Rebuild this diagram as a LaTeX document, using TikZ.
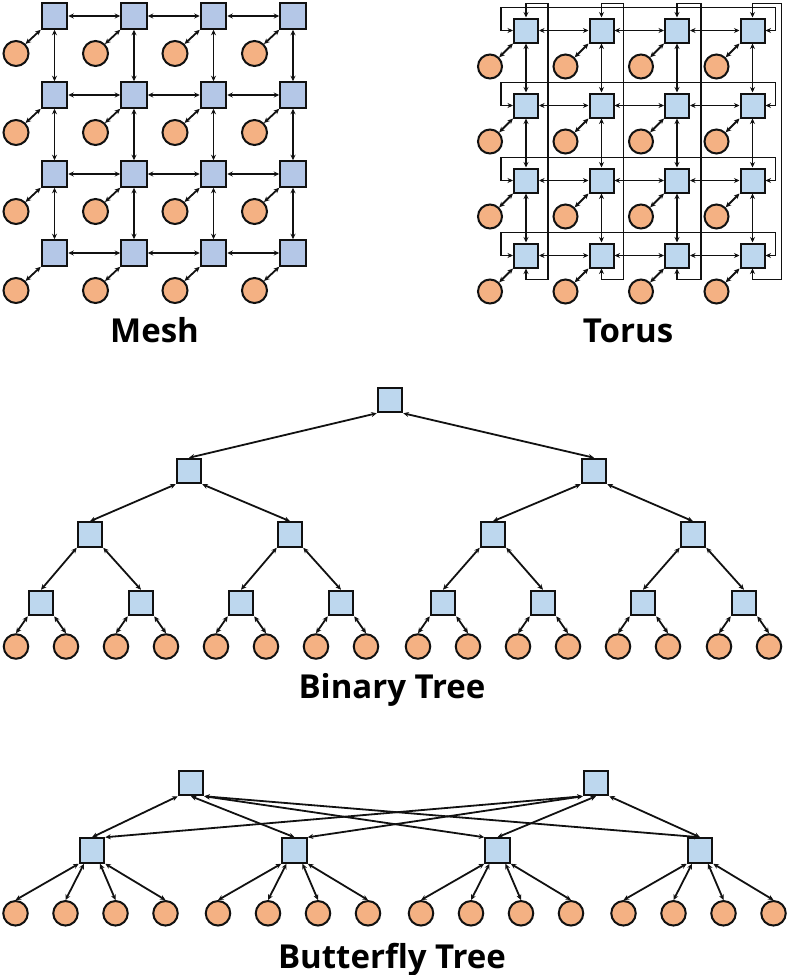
\documentclass[tikz,border=0pt]{standalone}
\usepackage{fontspec}
\setmainfont{Open Sans}
\usetikzlibrary{arrows.meta}

\definecolor{meshblue}{HTML}{B4C7E7}
\definecolor{routerblue}{HTML}{BDD7EE}
\definecolor{coreorange}{HTML}{F4B183}
\definecolor{wire}{HTML}{111111}

\begin{document}
\begin{tikzpicture}[x=1pt, y=-1pt, >={Stealth[length=5.5pt,width=5pt]},
  router/.style={draw=wire, line width=2pt, fill=routerblue, minimum size=24.5pt, inner sep=0pt},
  core/.style={circle, draw=wire, line width=2pt, fill=coreorange, minimum size=24.5pt, inner sep=0pt},
  link/.style={<->, draw=wire, line width=1.8pt},
  caption/.style={font=\fontsize{33}{40}\selectfont\bfseries, anchor=base}]
  \useasboundingbox (0,0) rectangle (788,975);

  % mesh
  \foreach \i in {0,...,3}
    \foreach \j in {0,...,3} {
      \node[router, fill=meshblue, minimum size=25.5pt] (m-\i-\j) at ({54.5+79.5*\i},{16+79*\j}) {};
      \node[core, minimum size=25pt] (mc-\i-\j) at ({16+79.5*\i},{53.5+79*\j}) {};
      \draw[link] (m-\i-\j.south west) -- (mc-\i-\j.north east);
    }
  \foreach \i/\k in {0/1,1/2,2/3}
    \foreach \j in {0,...,3} {
      \draw[link] (m-\i-\j) -- (m-\k-\j);
      \draw[link] (m-\j-\i) -- (m-\j-\k);
    }
  \node[caption] (meshlabel) at (154.5,342) {Mesh};

  % torus
  \foreach \i in {0,...,3}
    \foreach \j in {0,...,3} {
      \node[router, minimum size=24pt] (t-\i-\j) at ({526+75.5*\i},{30.5+75*\j}) {};
      \node[core, minimum size=24pt] (tc-\i-\j) at ({490+75.5*\i},{66.5+75*\j}) {};
      \draw[link] (t-\i-\j.south west) -- (tc-\i-\j.north east);
    }
  \foreach \i/\k in {0/1,1/2,2/3}
    \foreach \j in {0,...,3} {
      \draw[link] (t-\i-\j) -- (t-\k-\j);
      \draw[link] (t-\j-\i) -- (t-\j-\k);
    }
  % wrap-around links
  \foreach \j in {0,...,3}
    \draw[link] (t-0-\j.west) -- ++(-12,0) -- ++(0,-23) -| ([xshift=23pt]t-3-\j.center) -- (t-3-\j.east);
  \foreach \i/\off in {0/22,1/22,2/24,3/29}
    \draw[link] (t-\i-0.north) -- ++(0,-14) -- ++(\off,0) |- ([yshift=-24pt]t-\i-3.center) -- (t-\i-3.south);
  \node[caption] (toruslabel) at (628,342) {Torus};

  % binary tree
  \node[router] (root) at (390,400) {};
  \node[router] (b1-1) at (189,471) {};
  \node[router] (b1-2) at (594,471) {};
  \draw[link] (root.south west) -- (b1-1.north);
  \draw[link] (root.south east) -- (b1-2.north);
  \foreach \x [count=\k] in {90,290,493,693}
    \node[router] (b2-\k) at (\x,534.5) {};
  \draw[link] (b1-1.south west) -- (b2-1.north);
  \draw[link] (b1-1.south east) -- (b2-2.north);
  \draw[link] (b1-2.south west) -- (b2-3.north);
  \draw[link] (b1-2.south east) -- (b2-4.north);
  \foreach \x [count=\k] in {41,141,241,341,443,543,643,744} {
    \node[router] (b3-\k) at (\x,603) {};
    \node[core] (bl-\k-a) at ({\x-25},646.5) {};
    \node[core] (bl-\k-b) at ({\x+25},646.5) {};
    \draw[link] (b3-\k.south west) -- (bl-\k-a.north);
    \draw[link] (b3-\k.south east) -- (bl-\k-b.north);
  }
  \foreach \p/\l/\r in {1/1/2,2/3/4,3/5/6,4/7/8} {
    \draw[link] (b2-\p.south west) -- (b3-\l.north);
    \draw[link] (b2-\p.south east) -- (b3-\r.north);
  }
  \node[caption] (treelabel) at (392,698) {Binary Tree};

  % butterfly tree
  \node[router] (u-1) at (191,783) {};
  \node[router] (u-2) at (596,783) {};
  \foreach \x [count=\k] in {92,294.5,497.5,700} {
    \node[router] (v-\k) at (\x,850.5) {};
    \foreach \n in {0,...,3}
      \node[core] (vl-\k-\n) at ({\x-76.5+50*\n},913.3) {};
    \draw[link] (v-\k.south west) -- (vl-\k-0.north);
    \draw[link] ([xshift=-8pt]v-\k.south) -- (vl-\k-1.north);
    \draw[link] ([xshift=8pt]v-\k.south) -- (vl-\k-2.north);
    \draw[link] (v-\k.south east) -- (vl-\k-3.north);
  }
  \draw[link] (u-1.south west) -- (v-1.north);
  \draw[link] (u-1.south) -- (v-2.north);
  \draw[link] (u-1.south east) -- (v-3.north west);
  \draw[link] (u-1.south east) -- (v-4.north);
  \draw[link] (u-2.south west) -- (v-1.north east);
  \draw[link] (u-2.south west) -- (v-2.north east);
  \draw[link] (u-2.south) -- (v-3.north);
  \draw[link] (u-2.south east) -- (v-4.north);
  \node[caption] (butterflylabel) at (392,968.5) {Butterfly Tree};
\end{tikzpicture}
\end{document}
